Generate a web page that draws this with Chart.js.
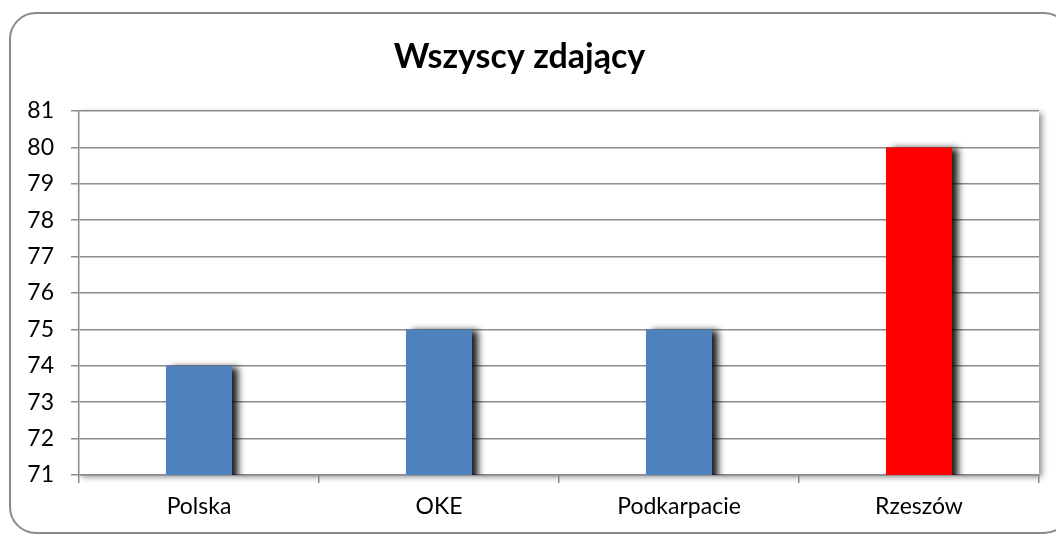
<!DOCTYPE html>
<html>
<head>
<meta charset="utf-8">
<script src="https://cdn.jsdelivr.net/npm/chart.js@4.4.0/dist/chart.umd.min.js"></script>
<style>
  html, body { margin: 0; padding: 0; background: #fff; }
  #wrap { width: 1056px; height: 536px; position: relative; }
</style>
</head>
<body>
<div id="wrap"><canvas id="Chart1"></canvas></div>
<script>
// chart values
const categories = ['Polska', 'OKE', 'Podkarpacie', 'Rzeszów'];
const values = [74, 75, 75, 80];
const barColors = ['#4f81bd', '#4f81bd', '#4f81bd', '#ff0000'];
const yMin = 71;
const yMax = 81;
const titleText = 'Wszyscy zdający';

const gridColor = '#8c8c8c';
const fontFamily = "Lato, 'Open Sans', sans-serif";

// rounded frame round the whole chart + shaded plot area
const framePlugin = {
  id: 'frame',
  beforeDraw(chart) {
    const ctx = chart.ctx;
    const a = chart.chartArea;
    ctx.save();
    ctx.strokeStyle = '#8a8a8a';
    ctx.lineWidth = 2;
    ctx.beginPath();
    ctx.roundRect(10, 13, 1060, 520, 26);
    ctx.stroke();

    ctx.shadowColor = 'rgba(0,0,0,0.45)';
    ctx.shadowBlur = 6;
    ctx.shadowOffsetX = 3;
    ctx.shadowOffsetY = 2;
    ctx.fillStyle = '#fff';
    ctx.fillRect(a.left, a.top, a.right - a.left, a.bottom - a.top);
    ctx.restore();
  }
};

// dark shadow to the right of each bar
const barShadow = {
  id: 'barShadow',
  beforeDatasetDraw(chart) {
    const ctx = chart.ctx;
    ctx.save();
    ctx.shadowColor = 'rgba(0,0,0,0.9)';
    ctx.shadowBlur = 7;
    ctx.shadowOffsetX = 6;
    ctx.shadowOffsetY = 1;
  },
  afterDatasetDraw(chart) {
    chart.ctx.restore();
  }
};

const ctx = document.getElementById('Chart1').getContext('2d');
const myChart = new Chart(ctx, {
  type: 'bar',
  data: {
    labels: categories,
    datasets: [{
      data: values,
      backgroundColor: barColors,
      borderWidth: 0,
      categoryPercentage: 1,
      barPercentage: 0.275
    }]
  },
  options: {
    responsive: true,
    maintainAspectRatio: false,
    animation: false,
    layout: { padding: { left: 0, right: 17, top: 0, bottom: 0 } },
    plugins: {
      legend: { display: false },
      tooltip: { enabled: false },
      title: {
        display: true,
        text: titleText,
        color: '#000',
        font: { family: fontFamily, size: 34, weight: 'bold', lineHeight: 1.2 },
        padding: { top: 37, bottom: 33.2 }
      }
    },
    scales: {
      x: {
        grid: {
          offset: true,
          drawOnChartArea: false,
          color: gridColor,
          lineWidth: 1.5,
          tickLength: 8
        },
        border: { color: gridColor, width: 1.5 },
        ticks: {
          color: '#000',
          padding: 10,
          font: { family: fontFamily, size: 23 }
        },
        afterFit(scale) { scale.height = 61; }
      },
      y: {
        min: yMin,
        max: yMax,
        grid: {
          color: gridColor,
          lineWidth: 1.5,
          tickLength: 8
        },
        border: { color: gridColor, width: 1.5 },
        ticks: {
          stepSize: 1,
          color: '#000',
          padding: 17,
          font: { family: fontFamily, size: 23 }
        },
        afterFit(scale) { scale.width = 79; }
      }
    }
  },
  plugins: [framePlugin, barShadow]
});
</script>
</body>
</html>
